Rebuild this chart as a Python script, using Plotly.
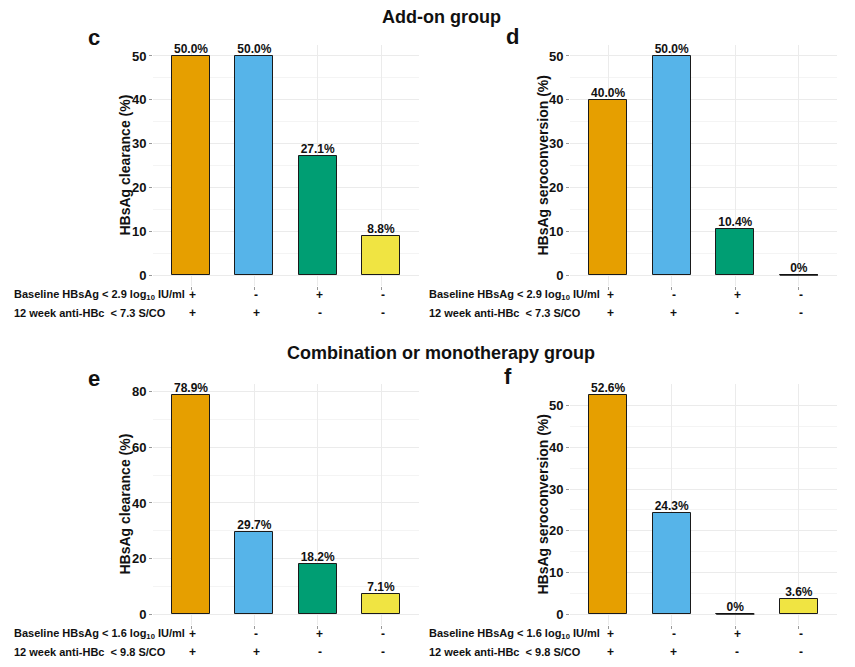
import plotly.graph_objects as go

# ---------------- data ----------------
categories = [1, 2, 3, 4]
bar_colors = ["#E69F00", "#56B4E9", "#009E73", "#F0E442"]

addon_clearance = [50.0, 50.0, 27.1, 8.8]
addon_seroconv = [40.0, 50.0, 10.4, 0.0]
combo_clearance = [78.9, 29.7, 18.2, 7.1]
combo_seroconv = [52.6, 24.3, 0.0, 3.6]

addon_clearance_lbl = ["50.0%", "50.0%", "27.1%", "8.8%"]
addon_seroconv_lbl = ["40.0%", "50.0%", "10.4%", "0%"]
combo_clearance_lbl = ["78.9%", "29.7%", "18.2%", "7.1%"]
combo_seroconv_lbl = ["52.6%", "24.3%", "0%", "3.6%"]

row1_signs = ["+", "-", "+", "-"]
row2_signs = ["+", "+", "-", "-"]

addon_row1 = "Baseline HBsAg < 2.9 log<sub>10</sub> IU/ml"
addon_row2 = "12 week anti-HBc  < 7.3 S/CO"
combo_row1 = "Baseline HBsAg < 1.6 log<sub>10</sub> IU/ml"
combo_row2 = "12 week anti-HBc  < 9.8 S/CO"

title_top = "Add-on group"
title_bottom = "Combination or monotherapy group"

# ---------------- layout geometry ----------------
OFF = 8  # page body margin in the browser
W, H = 855 - OFF, 667 - OFF
FONT = "Liberation Sans, Arial, sans-serif"


def px_x(v):
    return (v - OFF) / W


def px_y(v):
    return 1 - (v - OFF) / H


panels = [
    dict(vals=addon_clearance, lbls=addon_clearance_lbl, ytitle="HBsAg clearance (%)", dtick=10,
         letter="c", x0=153, x1=419, ytop=45, ybot=286, rows=(addon_row1, addon_row2),
         rowy=(295, 313), labx=12, let_xy=(94, 38), title_x=124),
    dict(vals=addon_seroconv, lbls=addon_seroconv_lbl, ytitle="HBsAg seroconversion (%)", dtick=10,
         letter="d", x0=570, x1=837, ytop=45, ybot=286, rows=(addon_row1, addon_row2),
         rowy=(295, 313), labx=427, let_xy=(512, 37), title_x=542),
    dict(vals=combo_clearance, lbls=combo_clearance_lbl, ytitle="HBsAg clearance (%)", dtick=20,
         letter="e", x0=153, x1=419, ytop=384, ybot=625, rows=(combo_row1, combo_row2),
         rowy=(634, 652), labx=12, let_xy=(94, 378), title_x=124),
    dict(vals=combo_seroconv, lbls=combo_seroconv_lbl, ytitle="HBsAg seroconversion (%)", dtick=10,
         letter="f", x0=570, x1=837, ytop=384, ybot=625, rows=(combo_row1, combo_row2),
         rowy=(634, 652), labx=427, let_xy=(508, 376), title_x=542),
]

fig = go.Figure()
annotations = []
shapes = []
layout = {}

BAR_W = 0.6
GRID = "#ebebeb"
MINOR = "#f4f4f4"

for i, p in enumerate(panels):
    n = "" if i == 0 else str(i + 1)
    xa, ya = "x" + n, "y" + n
    vmax = max(p["vals"])
    pad = 0.05 * vmax
    fig.add_trace(go.Bar(
        x=categories, y=p["vals"], width=BAR_W,
        marker=dict(color=bar_colors, line=dict(color="#1a1a1a", width=1)),
        xaxis=xa, yaxis=ya, showlegend=False, hoverinfo="skip",
    ))
    fig.add_trace(go.Scatter(
        x=categories, y=p["vals"], mode="text", text=["<b>%s</b>" % t for t in p["lbls"]],
        textposition="top center", textfont=dict(family=FONT, size=12, color="#111"),
        xaxis=xa, yaxis=ya, showlegend=False, hoverinfo="skip", cliponaxis=False,
    ))
    # zero-height bars drawn as outline
    for c, v in zip(categories, p["vals"]):
        if v == 0:
            shapes.append(dict(type="line", xref=xa, yref=ya, x0=c - BAR_W / 2, x1=c + BAR_W / 2,
                               y0=v, y1=v, line=dict(color="#111", width=1.6)))
    layout["xaxis" + n] = dict(
        domain=[px_x(p["x0"]), px_x(p["x1"])], range=[0.4, 4.6], anchor=ya,
        tickmode="array", tickvals=categories, showticklabels=False,
        ticks="outside", ticklen=3, tickcolor="#999", tickwidth=1,
        showgrid=True, gridcolor=GRID, gridwidth=1, zeroline=False, showline=False,
        fixedrange=True,
    )
    layout["yaxis" + n] = dict(
        domain=[px_y(p["ybot"]), px_y(p["ytop"])], range=[-pad, vmax + pad], anchor=xa,
        dtick=p["dtick"], tick0=0, ticks="outside", ticklen=3, tickcolor="#999", tickwidth=1,
        tickfont=dict(family=FONT, size=13, color="#111", weight="bold"),
        showgrid=True, gridcolor=GRID, gridwidth=1, zeroline=False, showline=False,
        minor=dict(dtick=p["dtick"] / 2, tick0=0, showgrid=True, gridcolor=MINOR, gridwidth=1),
        fixedrange=True,
    )
    # y-axis title
    annotations.append(dict(
        text="<b>%s</b>" % p["ytitle"], xref="paper", yref="paper",
        x=px_x(p["title_x"]), y=px_y((p["ytop"] + p["ybot"]) / 2),
        xanchor="center", yanchor="middle", textangle=-90, showarrow=False,
        font=dict(family=FONT, size=14, color="#111")))
    # row labels under the panel
    for rtext, ry, signs in zip(p["rows"], p["rowy"], (row1_signs, row2_signs)):
        annotations.append(dict(
            text="<b>%s</b>" % rtext, xref="paper", yref="paper", x=px_x(p["labx"]), y=px_y(ry),
            xanchor="left", yanchor="middle", showarrow=False,
            font=dict(family=FONT, size=11, color="#111")))
        for c, s in zip(categories, signs):
            annotations.append(dict(
                text="<b>%s</b>" % s, xref=xa, yref="paper", x=c + 0.03, y=px_y(ry),
                xanchor="center", yanchor="middle", showarrow=False,
                font=dict(family=FONT, size=12, color="#111")))
    annotations.append(dict(
        text="<b>%s</b>" % p["letter"], xref="paper", yref="paper",
        x=px_x(p["let_xy"][0]), y=px_y(p["let_xy"][1]), xanchor="center", yanchor="middle",
        showarrow=False, font=dict(family=FONT, size=22, color="#111")))

for t, ty in ((title_top, 17), (title_bottom, 353)):
    annotations.append(dict(
        text="<b>%s</b>" % t, xref="paper", yref="paper", x=px_x(441), y=px_y(ty),
        xanchor="center", yanchor="middle", showarrow=False,
        font=dict(family=FONT, size=18, color="#111")))

fig.update_layout(
    width=W, height=H, margin=dict(l=0, r=0, t=0, b=0),
    paper_bgcolor="white", plot_bgcolor="white",
    annotations=annotations, shapes=shapes, bargap=0, **layout,
)

fig.write_html("out.html")
